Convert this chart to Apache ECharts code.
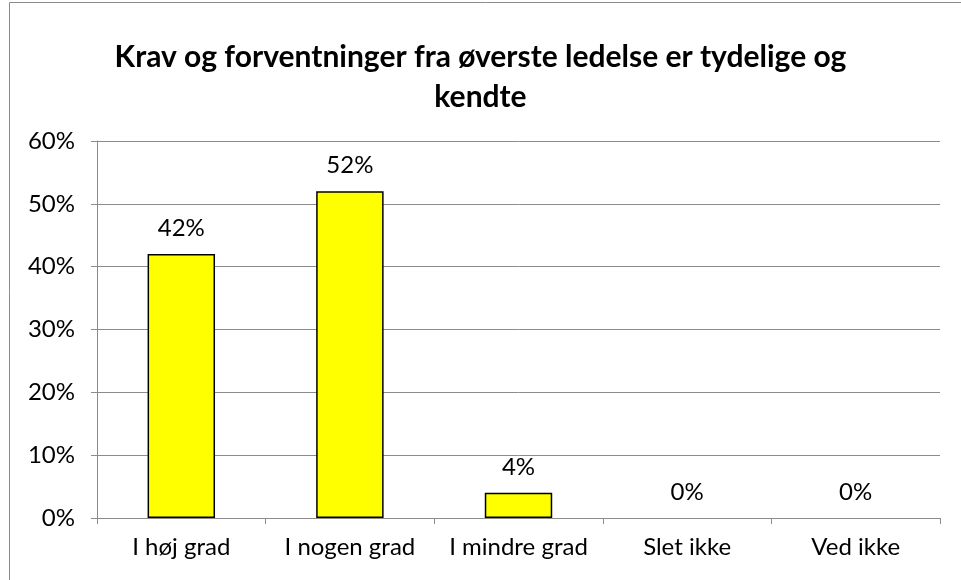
<!DOCTYPE html>
<html>
<head>
<meta charset="utf-8">
<script src="https://cdn.jsdelivr.net/npm/echarts@6/dist/echarts.min.js"></script>
<style>
  html, body { margin: 0; padding: 0; background: #fff; }
  #chart { width: 961px; height: 580px; }
</style>
</head>
<body>
<div id="chart"></div>
<script>
  var categories = ['I høj grad', 'I nogen grad', 'I mindre grad', 'Slet ikke', 'Ved ikke']
  var values = [42, 52, 4, 0, 0]
  var titleText = 'Krav og forventninger fra øverste ledelse er tydelige og\nkendte'

  var font = 'Lato, "Open Sans", sans-serif'
  var chart = echarts.init(document.getElementById('chart'))

  // zero bars get no outline, as in the original
  var barData = values.map(function (v) {
    return v === 0 ? { value: v, itemStyle: { borderWidth: 0 } } : v
  })

  chart.setOption({
    backgroundColor: '#fff',
    animation: false,
    graphic: [
      {
        type: 'rect',
        shape: { x: 9.5, y: 2.5, width: 1000, height: 1000 },
        style: { fill: 'none', stroke: '#8c8c8c', lineWidth: 1 },
      },
    ],
    title: {
      text: titleText,
      left: 'center',
      top: 32,
      textStyle: {
        fontFamily: font,
        fontSize: 30,
        fontWeight: 'bold',
        color: '#000',
        lineHeight: 40,
      },
    },
    grid: {
      left: 97,
      right: 21,
      top: 141,
      bottom: 62,
    },
    xAxis: {
      type: 'category',
      data: categories,
      axisLine: { lineStyle: { color: '#8c8c8c', width: 1 } },
      axisTick: { show: true, length: 6, lineStyle: { color: '#8c8c8c' } },
      axisLabel: {
        interval: 0,
        fontFamily: font,
        fontSize: 24,
        color: '#000',
        margin: 17,
      },
    },
    yAxis: {
      type: 'value',
      min: 0,
      max: 60,
      interval: 10,
      axisLine: { show: true, lineStyle: { color: '#8c8c8c', width: 1 } },
      axisTick: { show: true, length: 6, lineStyle: { color: '#8c8c8c' } },
      splitLine: { lineStyle: { color: '#8c8c8c', width: 1 } },
      axisLabel: {
        fontFamily: font,
        fontSize: 24,
        color: '#000',
        margin: 22,
        formatter: '{value}%',
      },
    },
    series: [
      {
        type: 'bar',
        data: barData,
        barWidth: '40%',
        itemStyle: {
          color: '#ffff00',
          borderColor: '#000',
          borderWidth: 1.5,
        },
        label: {
          show: true,
          position: 'top',
          distance: 14,
          fontFamily: font,
          fontSize: 24,
          color: '#000',
          formatter: '{c}%',
        },
      },
    ],
  })
</script>
</body>
</html>
